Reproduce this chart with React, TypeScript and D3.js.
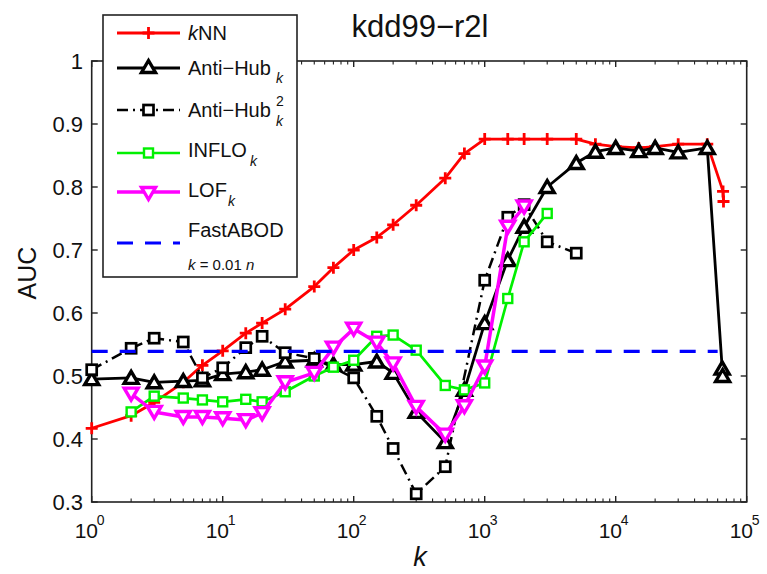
import React from 'react';
import * as d3 from 'd3';

// ---------- data ----------
const knnK = [1, 2, 3, 5, 7, 10, 15, 20, 30, 50, 70, 100, 150, 200, 300, 500, 700, 1000, 1500, 2000, 3000, 5000, 7000, 10000, 15000, 20000, 30000, 50000, 66000, 66500];
const knnAUC = [0.417, 0.437, 0.458, 0.49, 0.517, 0.54, 0.568, 0.584, 0.606, 0.642, 0.672, 0.70, 0.72, 0.74, 0.771, 0.814, 0.853, 0.876, 0.876, 0.876, 0.876, 0.876, 0.868, 0.864, 0.862, 0.864, 0.868, 0.868, 0.793, 0.777];

const antiHubK = [1, 2, 3, 5, 7, 10, 15, 20, 30, 50, 70, 100, 150, 200, 300, 500, 700, 1000, 1500, 2000, 3000, 5000, 7000, 10000, 15000, 20000, 30000, 50000, 65000, 65500];
const antiHubAUC = [0.495, 0.497, 0.49, 0.492, 0.493, 0.503, 0.506, 0.51, 0.523, 0.525, 0.518, 0.518, 0.523, 0.505, 0.443, 0.395, 0.478, 0.584, 0.684, 0.737, 0.80, 0.838, 0.856, 0.862, 0.857, 0.862, 0.855, 0.862, 0.512, 0.50];

const antiHub2K = [1, 2, 3, 5, 7, 10, 15, 20, 30, 50, 100, 150, 200, 300, 500, 1000, 1500, 2000, 3000, 5000];
const antiHub2AUC = [0.51, 0.544, 0.56, 0.554, 0.497, 0.513, 0.545, 0.563, 0.537, 0.528, 0.497, 0.436, 0.385, 0.313, 0.356, 0.652, 0.752, 0.772, 0.713, 0.695];

const infloK = [2, 3, 5, 7, 10, 15, 20, 30, 50, 70, 100, 150, 200, 300, 500, 700, 1000, 1500, 2000, 3000];
const infloAUC = [0.443, 0.468, 0.465, 0.462, 0.459, 0.463, 0.459, 0.475, 0.50, 0.514, 0.525, 0.563, 0.565, 0.541, 0.485, 0.478, 0.489, 0.623, 0.713, 0.758];

const lofK = [2, 3, 5, 7, 10, 15, 20, 30, 50, 70, 100, 150, 200, 300, 500, 700, 1000, 1500, 2000];
const lofAUC = [0.472, 0.443, 0.435, 0.435, 0.433, 0.43, 0.441, 0.49, 0.505, 0.545, 0.575, 0.553, 0.52, 0.451, 0.407, 0.452, 0.515, 0.737, 0.769];

const fastAbodK = [1, 60000];
const fastAbodAUC = [0.539, 0.539];

const yTicks = [0.3, 0.4, 0.5, 0.6, 0.7, 0.8, 0.9, 1];
const yTickLabels = ['0.3', '0.4', '0.5', '0.6', '0.7', '0.8', '0.9', '1'];
const xDecades = [0, 1, 2, 3, 4, 5];

const FONT = '"Liberation Sans", Arial, Helvetica, sans-serif';

type Marker = 'plus' | 'tri' | 'sq' | 'sqs' | 'dtri';

function MarkerShape({ type, cx, cy, color }: { type: Marker; cx: number; cy: number; color: string }) {
  if (type === 'plus') {
    return <path d={`M${cx - 6},${cy}H${cx + 6}M${cx},${cy - 6}V${cy + 6}`} stroke={color} strokeWidth={2.8} fill="none" />;
  }
  if (type === 'tri') {
    return <path d={`M${cx},${cy - 6.5}L${cx + 7},${cy + 5.5}L${cx - 7},${cy + 5.5}Z`} stroke={color} strokeWidth={3.4} fill="#fff" strokeLinejoin="miter" />;
  }
  if (type === 'dtri') {
    return <path d={`M${cx},${cy + 6.5}L${cx + 7},${cy - 5.5}L${cx - 7},${cy - 5.5}Z`} stroke={color} strokeWidth={3.4} fill="#fff" strokeLinejoin="miter" />;
  }
  if (type === 'sqs') {
    return <rect x={cx - 4.5} y={cy - 4.5} width={9} height={9} stroke={color} strokeWidth={2.4} fill="#fff" />;
  }
  return <rect x={cx - 5} y={cy - 5} width={10} height={10} stroke={color} strokeWidth={2.7} fill="#fff" />;
}

export default function App() {
  const W = 767, H = 574;
  const x = d3.scaleLog().domain([1, 1e5]).range([91.7, 746.7]);
  const y = d3.scaleLinear().domain([0.3, 1]).range([502, 61]);

  const mk = (ks: number[], vs: number[]) => {
    const l = d3.line<[number, number]>().x(d => x(d[0])).y(d => y(d[1]));
    return l(ks.map((k, i) => [k, vs[i]] as [number, number])) || '';
  };

  const series = [
    { k: knnK, v: knnAUC, color: '#ff0000', width: 2.8, dash: undefined as string | undefined, marker: 'plus' as Marker },
    { k: antiHubK, v: antiHubAUC, color: '#000000', width: 2.8, dash: undefined, marker: 'tri' as Marker },
    { k: antiHub2K, v: antiHub2AUC, color: '#000000', width: 2.5, dash: '11,5,2,5', marker: 'sq' as Marker },
    { k: infloK, v: infloAUC, color: '#00f000', width: 2.7, dash: undefined, marker: 'sqs' as Marker },
    { k: lofK, v: lofAUC, color: '#ff00ff', width: 3.5, dash: undefined, marker: 'dtri' as Marker },
  ];

  const x0 = 91.7, x1 = 746.7, yTop = 61, yBot = 502;

  const minorTicks: number[] = [];
  for (let d = 0; d < 5; d++) for (let m = 2; m <= 9; m++) minorTicks.push(m * Math.pow(10, d));

  // legend
  const lx0 = 103, ly0 = 15, lx1 = 297, ly1 = 277;
  const lineA = 117, lineB = 180, lineMid = 148.5, textX = 188;

  return (
    <svg width={W} height={H} style={{ position: 'absolute', left: 0, top: 0, background: '#fff' }} fontFamily={FONT}>
      <rect x={0} y={0} width={W} height={H} fill="#fff" />
      {/* title */}
      <text x={420} y={37} textAnchor="middle" fontSize={31} fill="#111">kdd99−r2l</text>

      {/* axes box */}
      <rect x={x0} y={yTop} width={x1 - x0} height={yBot - yTop} fill="none" stroke="#222" strokeWidth={1.6} />

      {/* y ticks */}
      {yTicks.map((t, i) => (
        <g key={'y' + i}>
          <line x1={x0} x2={x0 + 6} y1={y(t)} y2={y(t)} stroke="#222" strokeWidth={1.4} />
          <line x1={x1} x2={x1 - 6} y1={y(t)} y2={y(t)} stroke="#222" strokeWidth={1.4} />
          <text x={83} y={y(t) + 8} textAnchor="end" fontSize={22} fill="#111">{yTickLabels[i]}</text>
        </g>
      ))}

      {/* x ticks */}
      {xDecades.map(d => {
        const px = x(Math.pow(10, d));
        return (
          <g key={'x' + d}>
            <line x1={px} x2={px} y1={yBot} y2={yBot - 6} stroke="#222" strokeWidth={1.4} />
            <line x1={px} x2={px} y1={yTop} y2={yTop + 6} stroke="#222" strokeWidth={1.4} />
            <text x={px - 17} y={538} fontSize={21} fill="#111">10</text>
            <text x={px + 5} y={525} fontSize={14} fill="#111">{d}</text>
          </g>
        );
      })}
      {minorTicks.map((t, i) => (
        <g key={'m' + i}>
          <line x1={x(t)} x2={x(t)} y1={yBot} y2={yBot - 3.5} stroke="#222" strokeWidth={1.1} />
          <line x1={x(t)} x2={x(t)} y1={yTop} y2={yTop + 3.5} stroke="#222" strokeWidth={1.1} />
        </g>
      ))}

      {/* axis labels */}
      <text transform="translate(36,273) rotate(-90)" textAnchor="middle" fontSize={25} fill="#111">AUC</text>
      <text x={420} y={566} textAnchor="middle" fontSize={27} fontStyle="italic" fill="#111">k</text>

      {/* series */}
      {series.map((s, si) => (
        <g key={'s' + si}>
          <path d={mk(s.k, s.v)} fill="none" stroke={s.color} strokeWidth={s.width} strokeDasharray={s.dash} strokeLinejoin="round" />
          {s.k.map((k, i) => (
            <MarkerShape key={i} type={s.marker} cx={x(k)} cy={y(s.v[i])} color={s.color} />
          ))}
        </g>
      ))}
      <path d={mk(fastAbodK, fastAbodAUC)} fill="none" stroke="#0000ff" strokeWidth={3.2} strokeDasharray="16,12" />

      {/* legend */}
      <rect x={lx0} y={ly0} width={lx1 - lx0} height={ly1 - ly0} fill="#fff" stroke="#222" strokeWidth={1.6} />
      {/* kNN */}
      <line x1={lineA} x2={lineB} y1={33} y2={33} stroke="#ff0000" strokeWidth={2.8} />
      <MarkerShape type="plus" cx={lineMid} cy={33} color="#ff0000" />
      <text x={textX} y={40} fontSize={20} fill="#111"><tspan fontStyle="italic">k</tspan>NN</text>
      {/* Anti-Hub */}
      <line x1={lineA} x2={lineB} y1={68} y2={68} stroke="#000" strokeWidth={2.8} />
      <MarkerShape type="tri" cx={lineMid} cy={67} color="#000" />
      <text x={textX} y={75} fontSize={20} fill="#111">Anti−Hub</text>
      <text x={textX + 88} y={83} fontSize={14} fontStyle="italic" fill="#111">k</text>
      {/* Anti-Hub^2 */}
      <line x1={lineA} x2={lineB} y1={110} y2={110} stroke="#000" strokeWidth={2.5} strokeDasharray="11,5,2,5" />
      <MarkerShape type="sq" cx={lineMid} cy={110} color="#000" />
      <text x={textX} y={117} fontSize={20} fill="#111">Anti−Hub</text>
      <text x={textX + 88} y={106} fontSize={14} fill="#111">2</text>
      <text x={textX + 88} y={126} fontSize={14} fontStyle="italic" fill="#111">k</text>
      {/* INFLO */}
      <line x1={lineA} x2={lineB} y1={153} y2={153} stroke="#00f000" strokeWidth={2.7} />
      <MarkerShape type="sqs" cx={lineMid} cy={153} color="#00f000" />
      <text x={textX} y={157} fontSize={20} fill="#111">INFLO</text>
      <text x={textX + 62} y={166} fontSize={14} fontStyle="italic" fill="#111">k</text>
      {/* LOF */}
      <line x1={lineA} x2={lineB} y1={192} y2={192} stroke="#ff00ff" strokeWidth={3.5} />
      <MarkerShape type="dtri" cx={lineMid} cy={193} color="#ff00ff" />
      <text x={textX} y={197} fontSize={20} fill="#111">LOF</text>
      <text x={textX + 40} y={206} fontSize={14} fontStyle="italic" fill="#111">k</text>
      {/* FastABOD */}
      <line x1={lineA} x2={lineB} y1={243} y2={243} stroke="#0000ff" strokeWidth={3.2} strokeDasharray="16,12" />
      <text x={textX} y={237} fontSize={20} fill="#111">FastABOD</text>
      <text x={textX} y={270} fontSize={15} fill="#111"><tspan fontStyle="italic">k</tspan> = 0.01 <tspan fontStyle="italic">n</tspan></text>
    </svg>
  );
}
